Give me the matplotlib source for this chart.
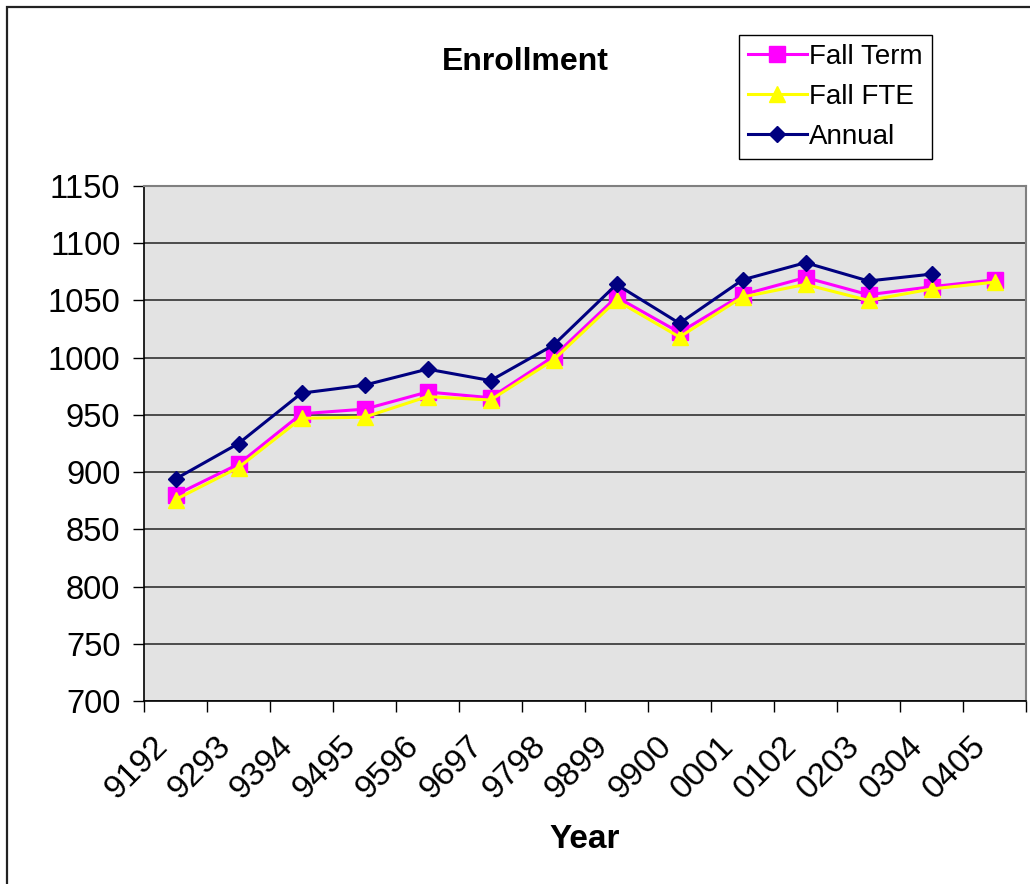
import numpy as np
import matplotlib
matplotlib.use("Agg")
import matplotlib.pyplot as plt
from matplotlib.patches import Rectangle
from matplotlib.transforms import ScaledTranslation

plt.rcParams['font.family'] = ['Liberation Sans', 'DejaVu Sans']

years = ["9192", "9293", "9394", "9495", "9596", "9697", "9798",
         "9899", "9900", "0001", "0102", "0203", "0304", "0405"]
fall_term = [880, 907, 951, 955, 970, 965, 1001, 1053, 1022, 1055, 1070, 1055, 1062, 1068]
fall_fte = [876, 904, 947, 948, 966, 963, 998, 1050, 1018, 1053, 1064, 1050, 1060, 1066]
annual = [894, 925, 969, 976, 990, 980, 1011, 1064, 1030, 1068, 1083, 1067, 1073]
y_ticks = [700, 750, 800, 850, 900, 950, 1000, 1050, 1100, 1150]

W, H = 1030, 884
fig = plt.figure(figsize=(W / 100, H / 100), dpi=100)
fig.patch.set_facecolor('white')

# outer chart border
fig.patches.append(Rectangle((7 / W, -0.05), 1.1, 1 - 7 / H + 0.05, transform=fig.transFigure,
                             fill=False, edgecolor='#222222', linewidth=1.6))

ax = fig.add_axes([144 / W, (H - 701) / H, (1026 - 144) / W, (701 - 186) / H])
ax.set_facecolor('#E3E3E3')

x = np.arange(len(years))
ax.plot(x, fall_term, color='#FF00FF', marker='s', markersize=11, linewidth=2.2,
        label='Fall Term', zorder=3)
ax.plot(x, fall_fte, color='#FFFF00', marker='^', markersize=12, linewidth=2.2,
        label='Fall FTE', zorder=4)
ax.plot(x[:len(annual)], annual, color='#000080', marker='D', markersize=8, linewidth=2.2,
        label='Annual', zorder=5)

ax.set_xlim(-0.5, len(years) - 0.5)
ax.set_ylim(700, 1150)
ax.set_yticks(y_ticks)
ax.tick_params(axis='y', labelsize=23.5, length=8, width=1, pad=9, colors='black')
ax.yaxis.grid(True, color='#222222', linewidth=1.1)
ax.set_axisbelow(True)

ax.set_xticks(np.arange(-0.5, len(years), 1))
ax.set_xticklabels([])
ax.tick_params(axis='x', which='major', length=8, width=1, color='black')
ax.set_xticks(x, minor=True)
ax.set_xticklabels(years, minor=True, rotation=45, ha='right', va='center',
                   rotation_mode='anchor', fontsize=24)
ax.tick_params(axis='x', which='minor', length=0, pad=29)
for lab in ax.get_xticklabels(minor=True):
    lab.set_transform(lab.get_transform() + ScaledTranslation(-13 / 100, 0, fig.dpi_scale_trans))

for side in ['top', 'right']:
    ax.spines[side].set_color('#808080')
    ax.spines[side].set_linewidth(1.5)
for side in ['left', 'bottom']:
    ax.spines[side].set_color('black')
    ax.spines[side].set_linewidth(1.2)

fig.text(525 / W, 1 - 62 / H, 'Enrollment', fontsize=23, fontweight='bold',
         ha='center', va='center')
fig.text(585 / W, 1 - 840 / H, 'Year', fontsize=24, fontweight='bold',
         ha='center', va='center')

leg = fig.legend(loc='upper left', bbox_to_anchor=(739 / W, 1 - 35 / H), borderaxespad=0,
                 fontsize=20, frameon=True, fancybox=False, framealpha=1,
                 edgecolor='black', handlelength=2.1, handletextpad=0.1,
                 labelspacing=0.5, borderpad=0.33)
leg.get_frame().set_linewidth(1.0)

fig.savefig('out.png', dpi=100)
